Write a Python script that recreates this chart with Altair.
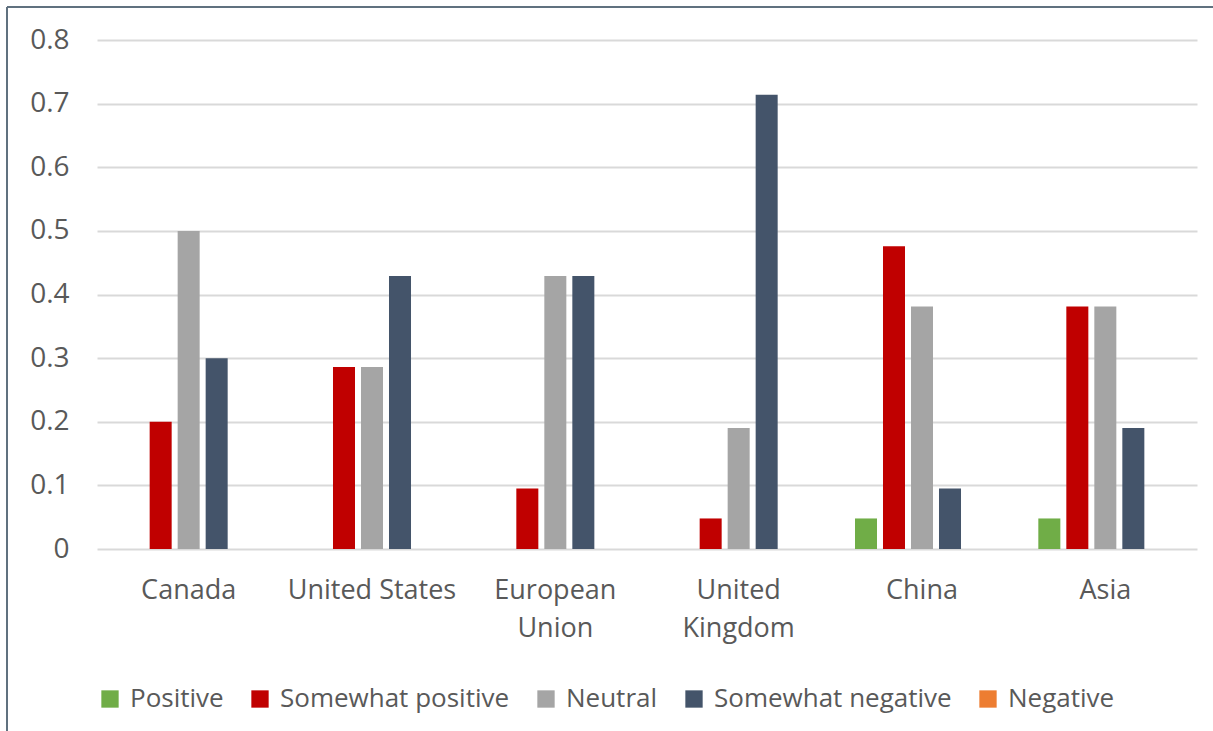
import altair as alt
import pandas as pd

# Survey response shares by region
regions = ["Canada", "United States", "European Union", "United Kingdom", "China", "Asia"]
series = ["Positive", "Somewhat positive", "Neutral", "Somewhat negative", "Negative"]
colors = ["#70ad47", "#c00000", "#a5a5a5", "#44546a", "#ed7d31"]

positive = [0, 0, 0, 0, 0.048, 0.048]
somewhat_positive = [0.2, 0.286, 0.095, 0.048, 0.476, 0.381]
neutral = [0.5, 0.286, 0.429, 0.19, 0.381, 0.381]
somewhat_negative = [0.3, 0.429, 0.429, 0.714, 0.095, 0.19]
negative = [0, 0, 0, 0, 0, 0]

y_ticks = [0, 0.1, 0.2, 0.3, 0.4, 0.5, 0.6, 0.7, 0.8]

rows = []
for name, vals in zip(series, [positive, somewhat_positive, neutral, somewhat_negative, negative]):
    for region, v in zip(regions, vals):
        rows.append({"region": region, "series": name, "value": v})
df = pd.DataFrame(rows)

FONT = "Open Sans"
TEXT = "#595959"

bars = alt.Chart(df).mark_bar().encode(
    x=alt.X(
        "region:N",
        sort=regions,
        scale=alt.Scale(domain=regions, paddingInner=0.269, paddingOuter=0.1345),
        axis=alt.Axis(
            title=None,
            domain=False,
            ticks=False,
            labelAngle=0,
            labelFont=FONT,
            labelFontSize=27,
            labelColor=TEXT,
            labelPadding=28,
            labelLineHeight=38,
            labelLimit=0,
            labelExpr="datum.label == 'European Union' || datum.label == 'United Kingdom' ? split(datum.label, ' ') : datum.label",
        ),
    ),
    xOffset=alt.XOffset(
        "series:N",
        sort=series,
        scale=alt.Scale(domain=series, paddingInner=0.214, paddingOuter=0),
    ),
    y=alt.Y(
        "value:Q",
        scale=alt.Scale(domain=[0, 0.8], nice=False),
        axis=alt.Axis(
            title=None,
            values=y_ticks,
            format="~g",
            domain=False,
            ticks=False,
            grid=True,
            gridColor="#d9d9d9",
            gridWidth=2,
            labelFont=FONT,
            labelFontSize=28,
            labelColor=TEXT,
            labelPadding=28,
        ),
    ),
    color=alt.Color(
        "series:N",
        sort=series,
        scale=alt.Scale(domain=series, range=colors),
        legend=alt.Legend(
            title=None,
            orient="none",
            direction="horizontal",
            legendX=0,
            legendY=646,
            symbolType="square",
            symbolSize=300,
            symbolStrokeWidth=0,
            labelFont=FONT,
            labelFontSize=26,
            labelColor=TEXT,
            labelOffset=7,
            labelLimit=0,
            columnPadding=23,
        ),
    ),
)

# Outer frame of the chart
anchor = pd.DataFrame({"k": [0]})
frame_left = alt.Chart(anchor).mark_rule(color="#60717f", strokeWidth=2).encode(
    x=alt.value(-90), y=alt.value(-33), y2=alt.value(700)
)
frame_top = alt.Chart(anchor).mark_rule(color="#60717f", strokeWidth=2).encode(
    x=alt.value(-90), x2=alt.value(1130), y=alt.value(-33)
)

chart = alt.layer(bars, frame_left, frame_top).properties(
    width=1100,
    height=509,
    autosize=alt.AutoSizeParams(type="none"),
    padding={"left": 97, "top": 40, "right": 16, "bottom": 182},
    background="white",
).configure_view(stroke=None)

chart.save("out.html", embed_options={"renderer": "svg", "actions": False})
